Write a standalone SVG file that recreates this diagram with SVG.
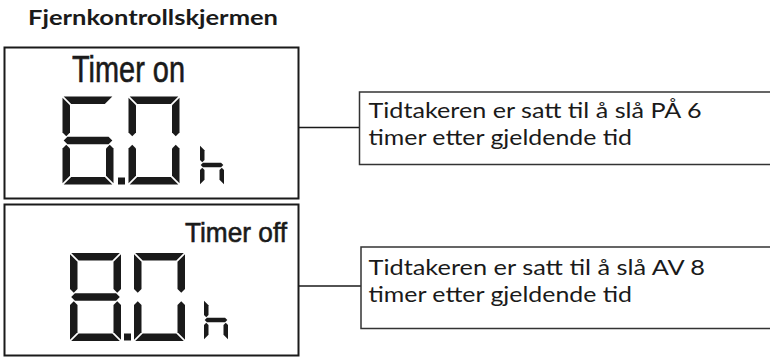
<svg xmlns="http://www.w3.org/2000/svg" xmlns:xlink="http://www.w3.org/1999/xlink" width="770" height="359" viewBox="0 0 770 359">
<style>
.frame{fill:#fff;stroke:#1a1a1a;stroke-width:2}
.call{fill:#fff;stroke:#333;stroke-width:1.5}
.conn{fill:none;stroke:#1a1a1a;stroke-width:1.5}
.seg{fill:#1a1a1a}
.lcd{font-family:"Liberation Sans",Arial,sans-serif;fill:#1a1a1a;stroke:#1a1a1a;stroke-width:0.6}
.title{font-family:Lato,"Open Sans",sans-serif;font-weight:bold;font-size:21px;fill:#1a1a1a}
.txt{font-family:Lato,"Open Sans",sans-serif;font-size:22px;fill:#1a1a1a}
</style>
<defs>
<polygon id="A" class="seg" points="1.2,0 49.8,0 42.3,7.5 8.7,7.5"/>
<polygon id="D" class="seg" points="1.2,88 49.8,88 42.3,80.5 8.7,80.5"/>
<polygon id="F" class="seg" points="0,1.2 7.5,8.7 7.5,36 3.75,39.75 0,36"/>
<polygon id="E" class="seg" points="0,86.8 7.5,79.3 7.5,52 3.75,48.25 0,52"/>
<polygon id="B" class="seg" points="51,1.2 43.5,8.7 43.5,36 47.25,39.75 51,36"/>
<polygon id="C" class="seg" points="51,86.8 43.5,79.3 43.5,52 47.25,48.25 51,52"/>
<polygon id="G" class="seg" points="1.2,44 4.95,40.25 46.05,40.25 49.8,44 46.05,47.75 4.95,47.75"/>
<g id="hh">
<polygon class="seg" points="0,0.8 4.5,5.3 4.5,15 2.25,17.25 0,15"/>
<polygon class="seg" points="0,39.2 4.5,34.7 4.5,25 2.25,22.75 0,25"/>
<polygon class="seg" points="0.7,20 2.95,17.75 21.05,17.75 23.3,20 21.05,22.25 2.95,22.25"/>
<polygon class="seg" points="24,39.2 19.5,34.7 19.5,25 21.75,22.75 24,25"/>
</g>
</defs>

<text id="title" class="title" x="28" y="25" textLength="250" lengthAdjust="spacingAndGlyphs">Fjernkontrollskjermen</text>

<g id="display-on">
<rect class="frame" x="4.5" y="47.5" width="294" height="151"/>
<text class="lcd" x="72" y="81.7" font-size="36" textLength="113" lengthAdjust="spacingAndGlyphs">Timer on</text>
<g transform="translate(62.5,96.5)"><use href="#A"/><use href="#F"/><use href="#G"/><use href="#E"/><use href="#D"/><use href="#C"/></g>
<rect class="seg" x="118" y="177.5" width="7" height="7"/>
<g transform="translate(128.5,96.5)"><use href="#A"/><use href="#B"/><use href="#C"/><use href="#D"/><use href="#E"/><use href="#F"/></g>
<use href="#hh" transform="translate(200,145)"/>
</g>

<g id="display-off">
<rect class="frame" x="4.5" y="204.5" width="294" height="151"/>
<text class="lcd" x="185" y="241.7" font-size="28" textLength="102" lengthAdjust="spacingAndGlyphs">Timer off</text>
<g transform="translate(70,253)"><use href="#A"/><use href="#B"/><use href="#C"/><use href="#D"/><use href="#E"/><use href="#F"/><use href="#G"/></g>
<rect class="seg" x="124" y="333.5" width="7" height="7"/>
<g transform="translate(134,253)"><use href="#A"/><use href="#B"/><use href="#C"/><use href="#D"/><use href="#E"/><use href="#F"/></g>
<use href="#hh" transform="translate(204,300)"/>
</g>

<g id="connectors">
<line class="conn" x1="298.5" y1="127.5" x2="359.5" y2="127.5"/>
<line class="conn" x1="298.5" y1="286" x2="361" y2="286"/>
</g>

<g id="note-on">
<rect class="call" x="359.5" y="92" width="420" height="72.5"/>
<text class="txt" x="368.5" y="117.7" textLength="333" lengthAdjust="spacingAndGlyphs">Tidtakeren er satt til å slå PÅ 6</text>
<text class="txt" x="368.5" y="145" textLength="263.5" lengthAdjust="spacingAndGlyphs">timer etter gjeldende tid</text>
</g>

<g id="note-off">
<rect class="call" x="361" y="247" width="420" height="81.5"/>
<text class="txt" x="368.5" y="274.5" textLength="336.5" lengthAdjust="spacingAndGlyphs">Tidtakeren er satt til å slå AV 8</text>
<text class="txt" x="368.5" y="302" textLength="263.5" lengthAdjust="spacingAndGlyphs">timer etter gjeldende tid</text>
</g>
</svg>
